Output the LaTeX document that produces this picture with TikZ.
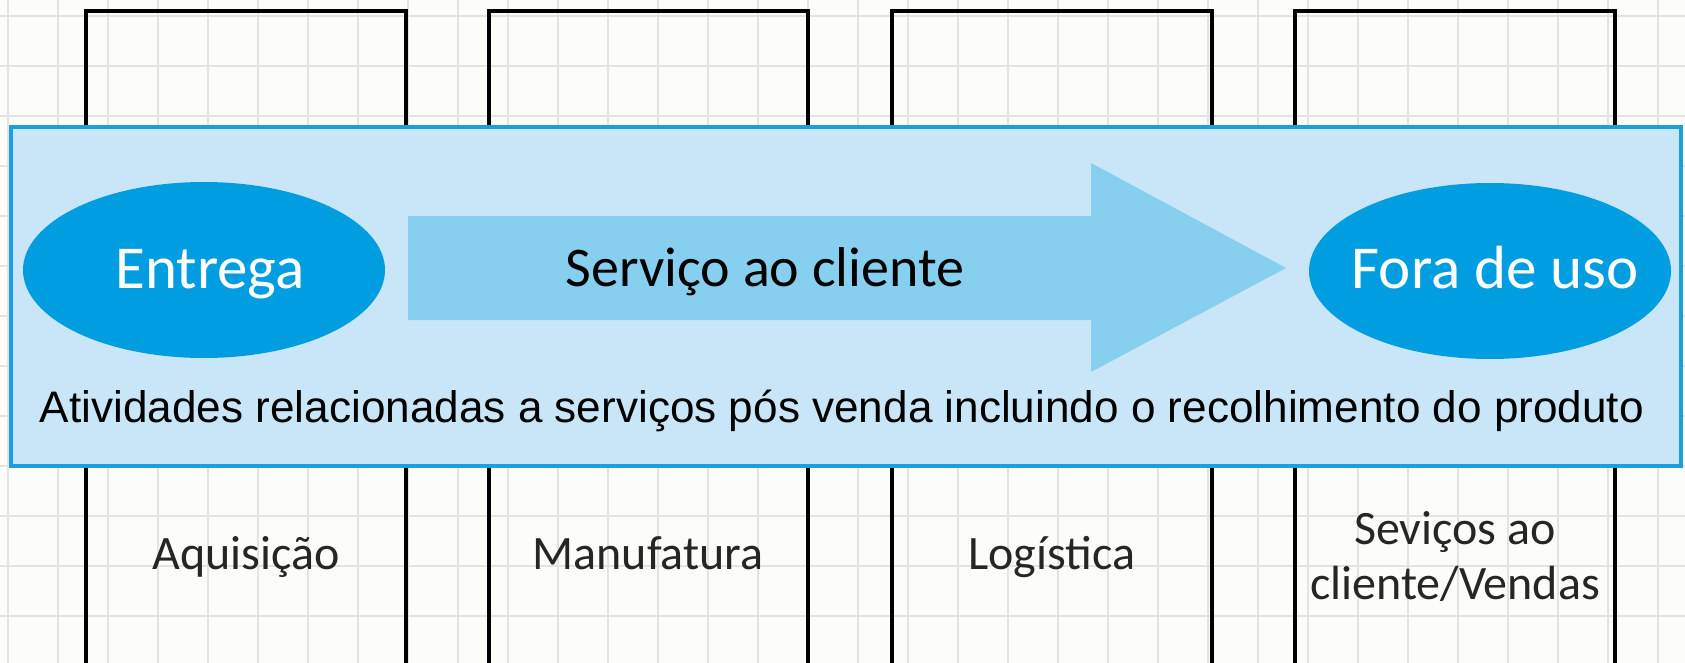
\documentclass[tikz,border=0pt]{standalone}
\usepackage{fontspec}
\setmainfont{Carlito}
\newfontfamily\arialf{Liberation Sans}
\usetikzlibrary{shapes.geometric}
\definecolor{bgpaper}{HTML}{FCFCF9}
\definecolor{gridc}{HTML}{E3E3E0}
\definecolor{panelfill}{HTML}{C8E6F8}
\definecolor{panelline}{HTML}{1A9FDF}
\definecolor{ovalfill}{HTML}{009EE0}
\definecolor{arrowfill}{HTML}{86CFEE}
\tikzset{
  gridline/.style={draw=gridc, line width=1.3pt},
  colline/.style={draw=black, line width=3.2pt, line cap=rect},
  panelbox/.style={draw=panelline, fill=panelfill, line width=3.2pt},
  oval/.style={ellipse, fill=ovalfill, minimum width=362pt, minimum height=176pt, inner sep=0pt},
  ovaltext/.style={text=white, font=\fontsize{61}{72}\selectfont, anchor=base},
  arrowtext/.style={text=black, font=\fontsize{56}{67}\selectfont, anchor=base},
  collabel/.style={text=black!85, font=\fontsize{48}{55}\selectfont, align=center},
}
\begin{document}
\begin{tikzpicture}[x=1pt,y=-1pt]
\fill[bgpaper] (0,0) rectangle (1685,663);
\useasboundingbox (0,0) rectangle (1685,663);
% grid
\foreach \x in {8,58,...,1685} \draw[gridline] (\x,0) -- (\x,663);
\foreach \y in {16,66,...,663} \draw[gridline] (0,\y) -- (1685,\y);
% columns
\foreach \l/\r in {86/406, 489/808, 892/1212, 1295/1615}
  \draw[colline] (\l,670) -- (\l,11) -- (\r,11) -- (\r,670);
% panel
\draw[panelbox] (11,127) rectangle (1681,466);
% arrow
\fill[arrowfill] (408,216) -- (1091,216) -- (1091,163) -- (1286,268) -- (1091,372) -- (1091,320) -- (408,320) -- cycle;
\coordinate (arrowmid) at (765,286);
\node[arrowtext] (servico) at (arrowmid) {Serviço ao cliente};
% ovals
\node[oval] (entrega) at (204,270) {};
\node[ovaltext] (entregatxt) at (210,288) {Entrega};
\node[oval] (fora) at (1490,271) {};
\node[ovaltext] (foratxt) at (1495,288) {Fora de uso};
% long text
\node[anchor=base, inner sep=0pt] (atividades) at (842,422)
  {\resizebox{1604pt}{!}{\arialf Atividades relacionadas a serviços pós venda incluindo o recolhimento do produto}};
% column labels
\node[collabel, anchor=base] (aquisicao) at (246,569) {Aquisição};
\node[collabel, anchor=base] (manufatura) at (648,569) {Manufatura};
\node[collabel, anchor=base] (logistica) at (1052,569) {Logística};
\node[collabel] (vendas) at (1455,557) {Seviços ao\\cliente/Vendas};
\end{tikzpicture}
\end{document}
